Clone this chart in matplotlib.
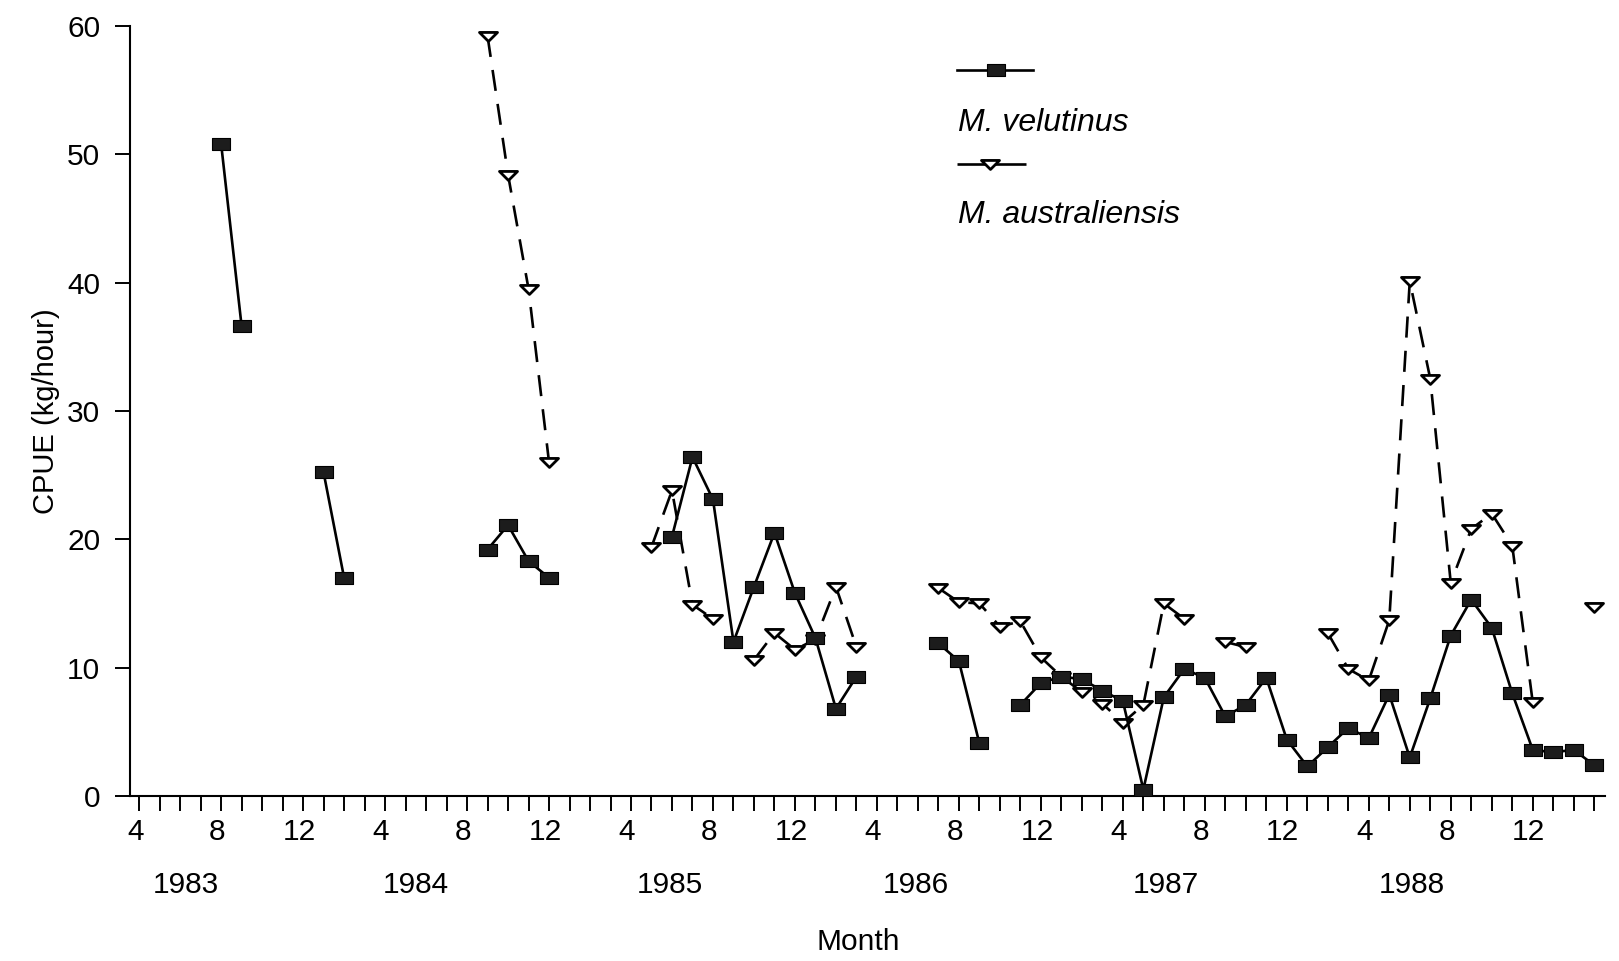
import numpy as np
import pandas as pd
import matplotlib
matplotlib.use("Agg")
import matplotlib.pyplot as plt
from matplotlib.path import Path
from matplotlib.lines import Line2D
from matplotlib.transforms import ScaledTranslation

plt.rcParams['font.family'] = ['Liberation Sans', 'DejaVu Sans']

# Monthly CPUE (kg/hour); months without a value are simply absent
velutinus_months = ["1983-08", "1983-09",
                    "1984-01", "1984-02",
                    "1984-09", "1984-10", "1984-11", "1984-12",
                    "1985-06", "1985-07", "1985-08", "1985-09", "1985-10", "1985-11",
                    "1985-12", "1986-01", "1986-02", "1986-03",
                    "1986-07", "1986-08", "1986-09",
                    "1986-11", "1986-12", "1987-01", "1987-02", "1987-03", "1987-04",
                    "1987-05", "1987-06", "1987-07", "1987-08", "1987-09", "1987-10",
                    "1987-11", "1987-12", "1988-01", "1988-02", "1988-03", "1988-04",
                    "1988-05", "1988-06", "1988-07", "1988-08", "1988-09", "1988-10",
                    "1988-11", "1988-12", "1989-01", "1989-02", "1989-03"]
velutinus_cpue = [50.8, 36.6,
                  25.2, 17.0,
                  19.2, 21.1, 18.3, 17.0,
                  20.2, 26.4, 23.1, 12.0, 16.3, 20.5,
                  15.8, 12.3, 6.8, 9.3,
                  11.9, 10.5, 4.1,
                  7.1, 8.8, 9.3, 9.1, 8.2, 7.4,
                  0.5, 7.7, 9.9, 9.2, 6.2, 7.1,
                  9.2, 4.4, 2.3, 3.8, 5.3, 4.5,
                  7.9, 3.0, 7.6, 12.5, 15.3, 13.1,
                  8.0, 3.6, 3.4, 3.6, 2.4]

australiensis_months = ["1984-09", "1984-10", "1984-11", "1984-12",
                        "1985-05", "1985-06", "1985-07", "1985-08",
                        "1985-10", "1985-11", "1985-12", "1986-01", "1986-02", "1986-03",
                        "1986-07", "1986-08", "1986-09", "1986-10", "1986-11", "1986-12",
                        "1987-01", "1987-02", "1987-03", "1987-04", "1987-05", "1987-06",
                        "1987-07",
                        "1987-09", "1987-10",
                        "1988-02", "1988-03", "1988-04", "1988-05", "1988-06", "1988-07",
                        "1988-08", "1988-09", "1988-10", "1988-11", "1988-12",
                        "1989-03"]
australiensis_cpue = [59.2, 48.4, 39.5, 26.0,
                      19.4, 23.8, 14.9, 13.8,
                      10.6, 12.7, 11.4, 12.2, 16.3, 11.6,
                      16.2, 15.1, 15.0, 13.2, 13.6, 10.8,
                      9.3, 8.1, 7.2, 5.7, 7.1, 15.0,
                      13.8,
                      12.0, 11.6,
                      12.7, 9.9, 9.0, 13.7, 40.1, 32.5,
                      16.6, 20.8, 22.0, 19.5, 7.3,
                      14.7]

months = pd.period_range("1983-04", "1989-03", freq="M")
years = ["1983", "1984", "1985", "1986", "1987", "1988"]
year_label_x = [2.3, 13.5, 25.9, 37.9, 50.1, 62.1]


def monthly(month_list, values):
    # put the series on the full monthly grid, NaN breaks the line
    s = pd.Series(values, index=pd.PeriodIndex(month_list, freq="M"))
    return s.reindex(months).to_numpy(dtype=float)


x = np.arange(len(months))
vel = monthly(velutinus_months, velutinus_cpue)
aus = monthly(australiensis_months, australiensis_cpue)

# flat rectangle and flat down-pointing triangle markers
rect = Path([(-1, -0.7), (1, -0.7), (1, 0.7), (-1, 0.7), (-1, -0.7)],
            [Path.MOVETO, Path.LINETO, Path.LINETO, Path.LINETO, Path.CLOSEPOLY])
tri = Path([(-1, 0.45), (1, 0.45), (0, -0.55), (-1, 0.45)],
           [Path.MOVETO, Path.LINETO, Path.LINETO, Path.CLOSEPOLY])

aus_style = dict(color='black', lw=1.9, dashes=(8, 5), marker=tri, ms=13,
                 mfc='white', mec='black', mew=2.0)
vel_style = dict(color='black', lw=1.9, marker=rect, ms=13,
                 mfc='#1c1c1c', mec='black', mew=0.8)

fig = plt.figure(figsize=(16.19, 9.61), dpi=100)
ax = fig.add_axes([0.0800, 0.1717, 0.9114, 0.8015])

ax.plot(x, aus, **aus_style, zorder=3)
ax.plot(x, vel, **vel_style, zorder=4)

ax.set_xlim(-0.47, 71.53)
ax.set_ylim(0, 60)

ax.spines['top'].set_visible(False)
ax.spines['right'].set_visible(False)
for sp in ('left', 'bottom'):
    ax.spines[sp].set_linewidth(1.5)

ax.set_yticks(np.arange(0, 61, 10))
ax.set_xticks(x)
ax.set_xticklabels([str(p.month) if i % 4 == 0 else '' for i, p in enumerate(months)])
ax.tick_params(axis='both', direction='out', length=11, width=1.4,
               labelsize=21.5, colors='black')
ax.tick_params(axis='x', pad=5)
ax.tick_params(axis='y', pad=10)
# month numbers sit a touch left of their ticks
shift = ScaledTranslation(-4 / 100, 0, fig.dpi_scale_trans)
for lab in ax.get_xticklabels():
    lab.set_transform(lab.get_transform() + shift)

for yr, xp in zip(years, year_label_x):
    ax.text(xp, -0.115, yr, transform=ax.get_xaxis_transform(),
            ha='center', va='center', fontsize=21.5)

fig.text(858 / 1619, 1 - 942 / 961, 'Month', ha='center', va='center', fontsize=21.5)
ax.set_ylabel('CPUE (kg/hour)', fontsize=21, labelpad=5)

# legend: sample line above each species name
y1 = 1 - 70 / 961
fig.add_artist(Line2D([0.591, 0.615, 0.638], [y1, y1, y1], markevery=[1],
                      transform=fig.transFigure, **vel_style))
fig.text(0.592, 1 - 123 / 961, 'M. velutinus', style='italic', fontsize=23,
         ha='left', va='center')
y2 = 1 - 164 / 961
leg_aus = dict(aus_style, dashes=(13, 1.5))
fig.add_artist(Line2D([0.591, 0.6115, 0.634], [y2, y2, y2], markevery=[1],
                      transform=fig.transFigure, **leg_aus))
fig.text(0.592, 1 - 215 / 961, 'M. australiensis', style='italic', fontsize=23,
         ha='left', va='center')

fig.savefig('out.png', dpi=100)
